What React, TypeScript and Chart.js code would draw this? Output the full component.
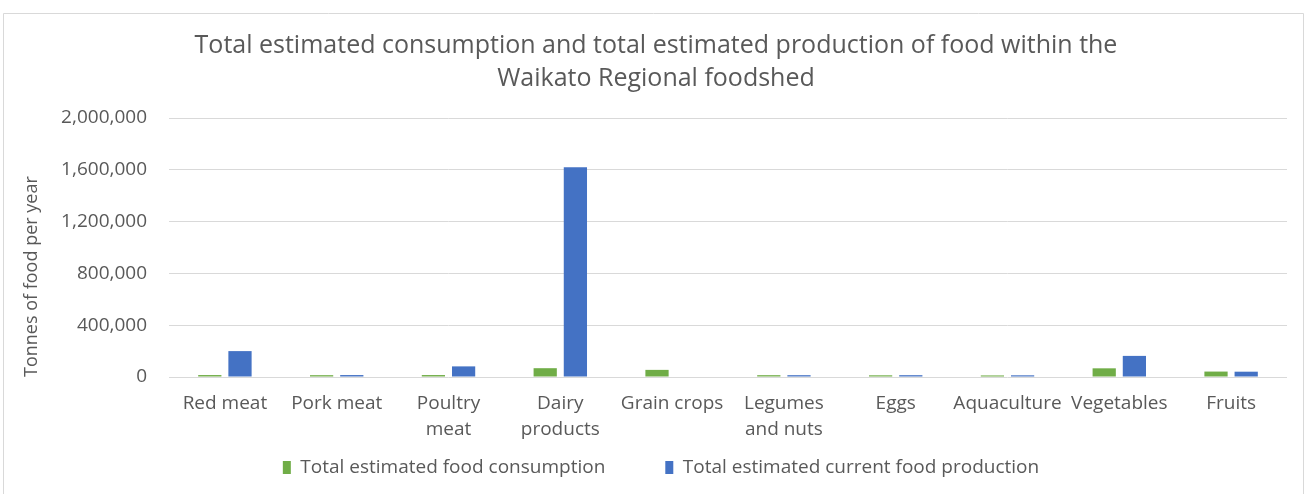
import React, { useEffect, useRef } from "react";
import { Chart, registerables } from "chart.js";

Chart.register(...registerables);

const categories: (string | string[])[] = [
  "Red meat",
  "Pork meat",
  ["Poultry", "meat"],
  ["Dairy", "products"],
  "Grain crops",
  ["Legumes", "and nuts"],
  "Eggs",
  "Aquaculture",
  "Vegetables",
  "Fruits",
];
const consumption = [15000, 14000, 15000, 68000, 55000, 14000, 13000, 12000, 67000, 42000];
const production = [200000, 15000, 82000, 1620000, 0, 14000, 14000, 13000, 163000, 41000];
const yTicks = [0, 400000, 800000, 1200000, 1600000, 2000000];

const TEXT = "#595959";
const FONT = "'Open Sans', sans-serif";

const borderPlugin = {
  id: "frameBorder",
  beforeDraw(chart: any) {
    const ctx = chart.ctx;
    ctx.save();
    ctx.fillStyle = "#ffffff";
    ctx.fillRect(0, 0, chart.width, chart.height);
    ctx.strokeStyle = "#d9d9d9";
    ctx.lineWidth = 1;
    ctx.beginPath();
    ctx.moveTo(3.5, chart.height);
    ctx.lineTo(3.5, 13.5);
    ctx.lineTo(1303.5, 13.5);
    ctx.lineTo(1303.5, chart.height);
    ctx.stroke();
    ctx.restore();
  },
};

// place the legend row and title like the reference
const placePlugin = {
  id: "placeBlocks",
  afterLayout(chart: any) {
    const lg = chart.legend;
    if (lg) {
      lg.top = 398;
      lg.bottom = 494;
      lg.height = 96;
      lg.left = 16;
      lg.right = 1306;
      lg.width = 1290;
    }
    const tb = chart.titleBlock;
    if (tb) {
      tb.left = 6;
      tb.right = 1306;
      tb.width = 1300;
    }
  },
};

export default function App() {
  const ref = useRef<HTMLCanvasElement | null>(null);
  useEffect(() => {
    if (!ref.current) return;
    const chart = new Chart(ref.current, {
      type: "bar",
      data: {
        labels: categories,
        datasets: [
          {
            label: "Total estimated food consumption",
            data: consumption,
            backgroundColor: "#70AD47",
            categoryPercentage: 0.54,
            barPercentage: 0.77,
          },
          {
            label: "Total estimated current food production",
            data: production,
            backgroundColor: "#4472C4",
            categoryPercentage: 0.54,
            barPercentage: 0.77,
          },
        ],
      },
      options: {
        animation: false,
        responsive: false,
        maintainAspectRatio: false,
        layout: { padding: { top: 29, right: 19, bottom: 0, left: 0 } },
        plugins: {
          title: {
            display: true,
            text: [
              "Total estimated consumption and total estimated production of food within the",
              "Waikato Regional foodshed",
            ],
            color: TEXT,
            font: { family: FONT, size: 25, weight: "normal", lineHeight: 1.32 },
            padding: { top: 0, bottom: 23 },
          },
          legend: {
            position: "bottom",
            maxHeight: 27,
            labels: {
              color: TEXT,
              font: { family: FONT, size: 19 },
              boxWidth: 8,
              boxHeight: 13,
              padding: 60,
            },
          },
          tooltip: { enabled: false },
        },
        scales: {
          x: {
            grid: { display: false, drawTicks: false },
            border: { display: false },
            ticks: {
              color: TEXT,
              font: { family: FONT, size: 19, lineHeight: 1.35 },
              padding: 14,
              maxRotation: 0,
              autoSkip: false,
            },
            afterFit(scale: any) {
              scale.height = 90;
            },
          },
          y: {
            min: 0,
            max: 2000000,
            afterBuildTicks(scale: any) {
              scale.ticks = yTicks.map((v) => ({ value: v }));
            },
            grid: { color: "#d9d9d9", drawTicks: false },
            border: { display: false },
            ticks: {
              color: TEXT,
              font: { family: FONT, size: 19 },
              padding: 22,
              callback: (v: any) => Number(v).toLocaleString("en-US"),
            },
            title: {
              display: true,
              text: "Tonnes of food per year",
              align: "start",
              color: TEXT,
              font: { family: FONT, size: 18 },
              padding: { top: 21, bottom: 0 },
            },
            afterFit(scale: any) {
              scale.width = 169;
            },
          },
        },
      },
      plugins: [borderPlugin, placePlugin],
    });
    return () => chart.destroy();
  }, []);
  return (
    <div style={{ position: "absolute", left: 0, top: 0, width: 1306, height: 494 }}>
      <canvas ref={ref} width={1306} height={494} style={{ display: "block" }} />
    </div>
  );
}
